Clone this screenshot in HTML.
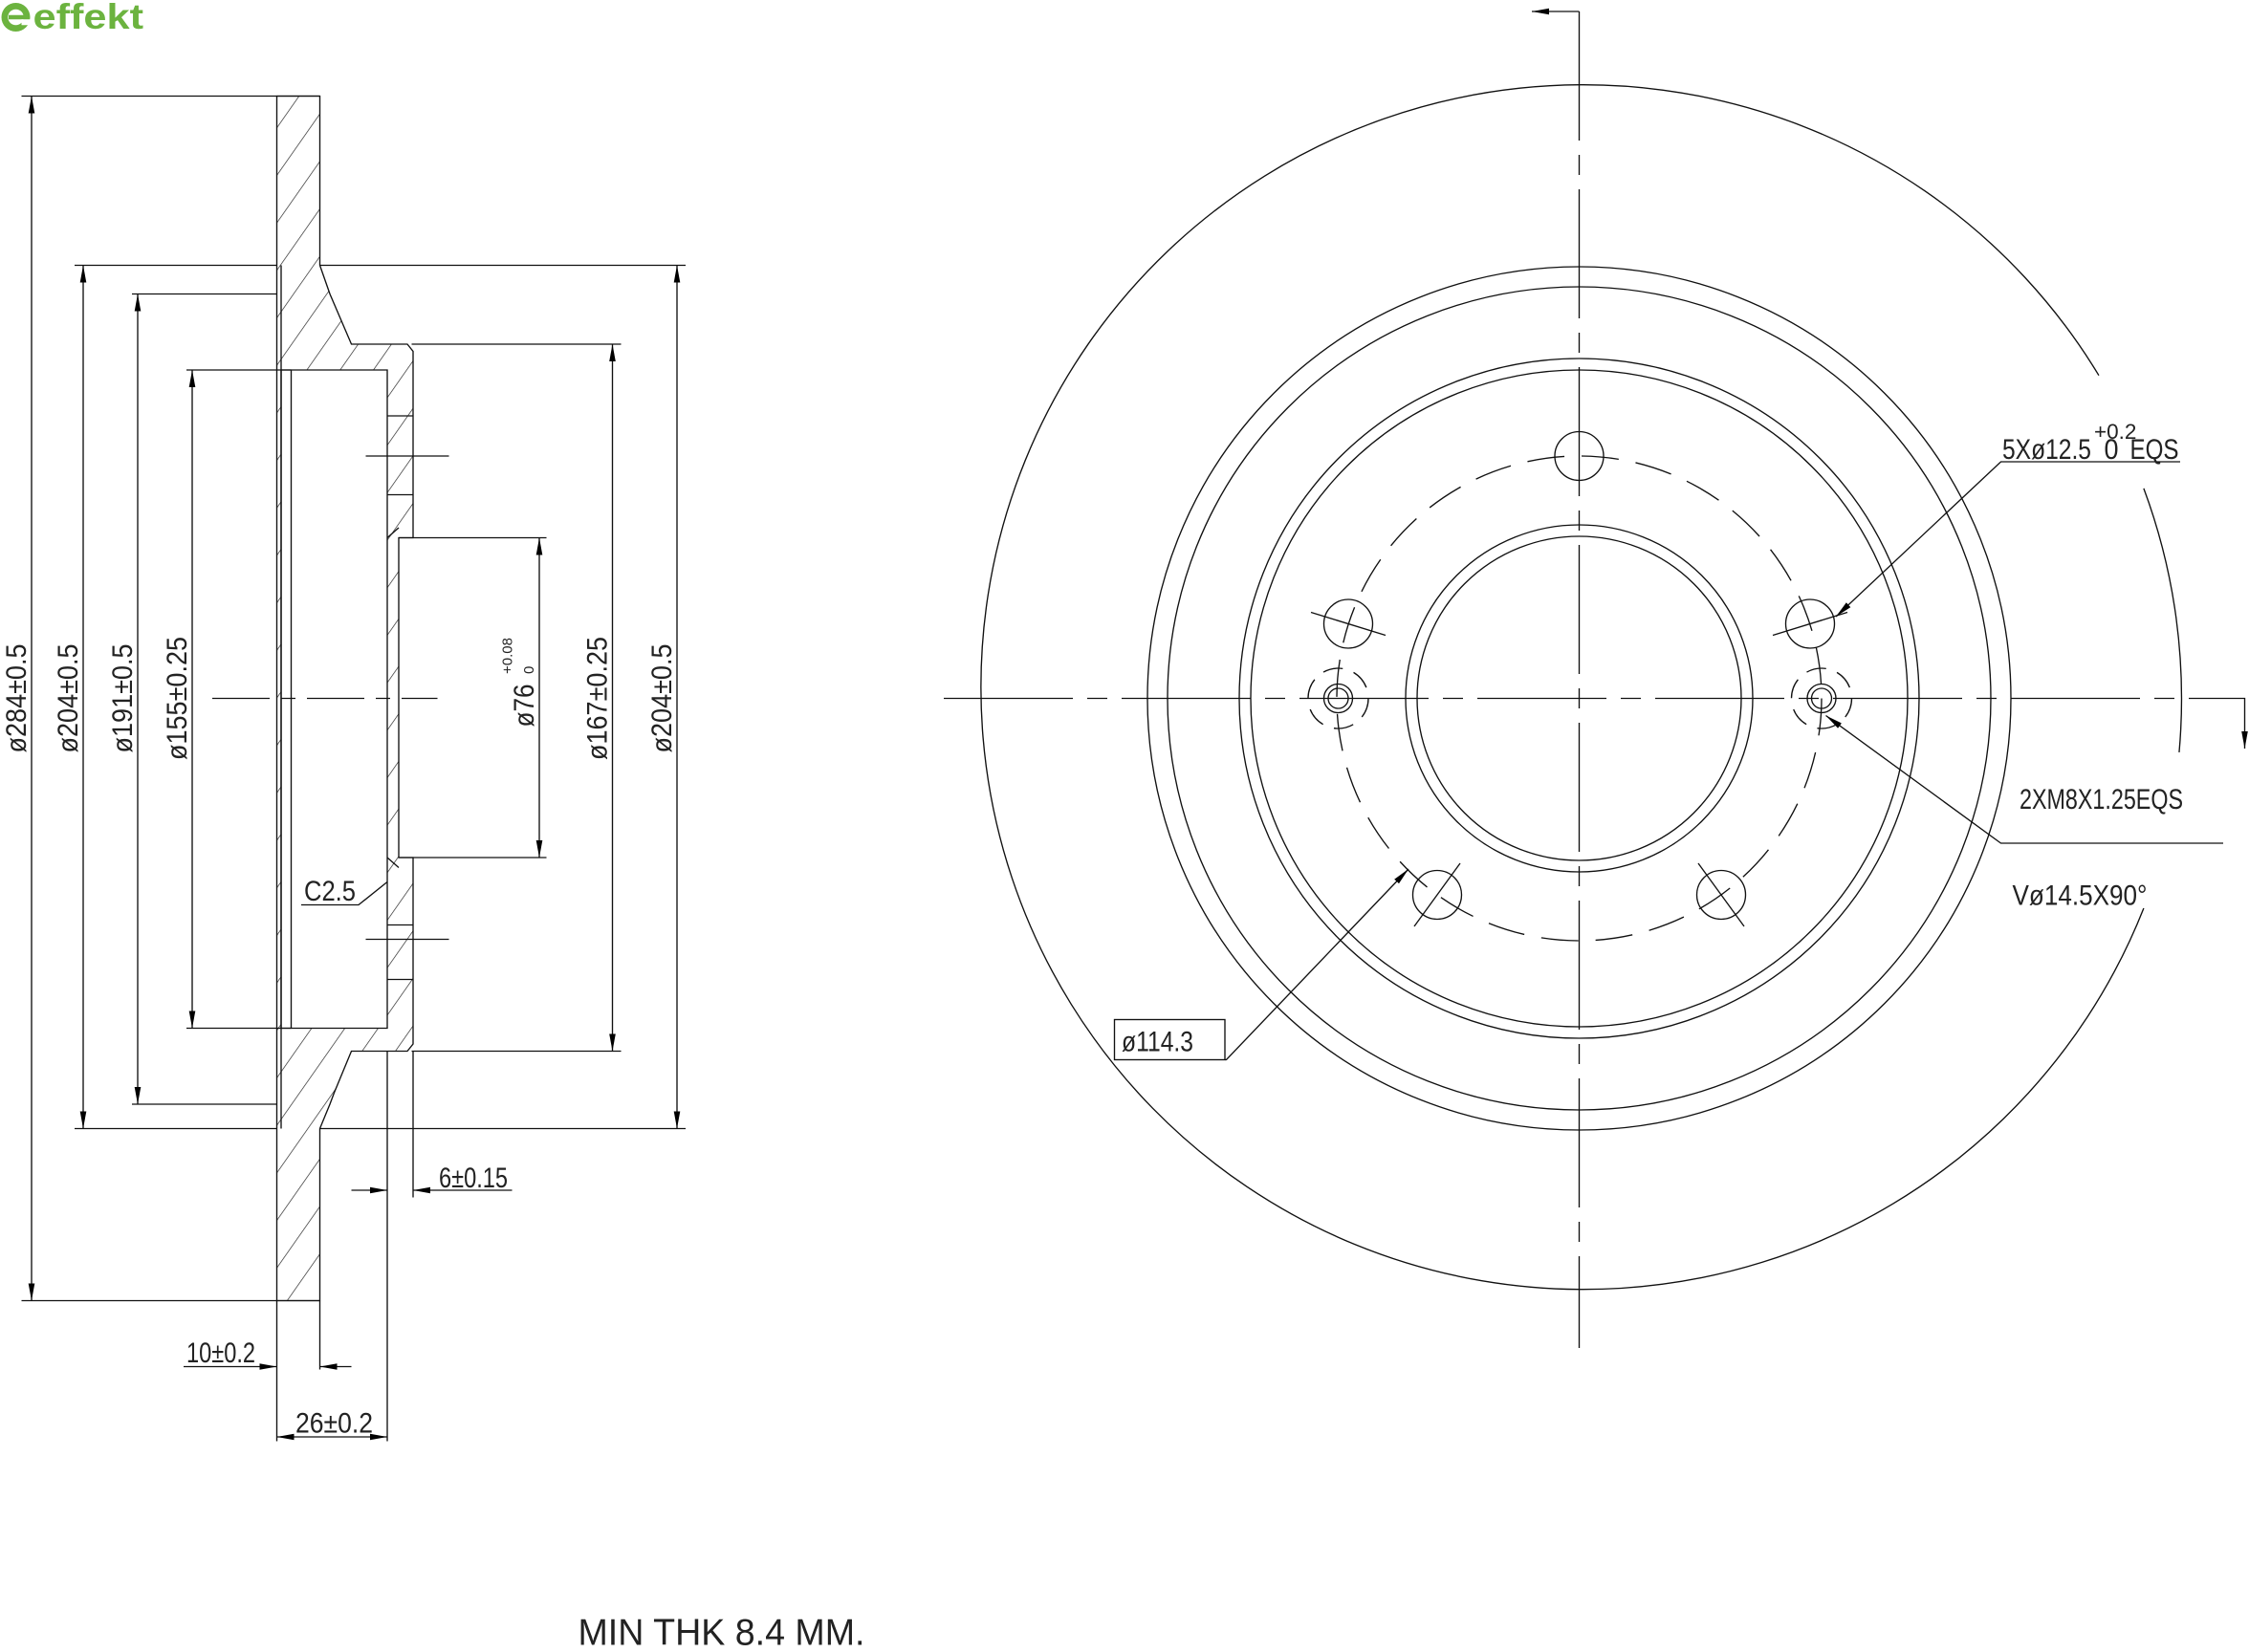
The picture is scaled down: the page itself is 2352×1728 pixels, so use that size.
<!DOCTYPE html>
<html><head><meta charset="utf-8"><style>html,body{margin:0;padding:0;background:#fff}svg{display:block}</style></head><body>
<svg width="2352" height="1728" viewBox="0 0 1568 1152" xmlns="http://www.w3.org/2000/svg" font-family="Liberation Sans, sans-serif">
<defs>
<pattern id="h" patternUnits="userSpaceOnUse" width="19" height="19" patternTransform="rotate(35)">
<line x1="0" y1="0" x2="0" y2="19" stroke="#222" stroke-width="0.9"/>
</pattern>
<marker id="a" viewBox="0 0 12 6" refX="12" refY="3" markerWidth="12" markerHeight="6" markerUnits="userSpaceOnUse" orient="auto"><path d="M0,0.8 L12,3 L0,5.2z" fill="#000"/></marker>
</defs>
<rect width="1568" height="1152" fill="#fff"/>
<!-- logo -->
<g fill="#6cb33f">
<circle cx="11" cy="12" r="10"/><circle cx="11" cy="12" r="5.5" fill="#fff"/>
<rect x="6" y="10.5" width="14" height="3" fill="#6cb33f"/>
<rect x="15" y="13.5" width="7" height="4" fill="#fff"/>
<text x="23" y="20" font-size="25" font-weight="bold" textLength="77" lengthAdjust="spacingAndGlyphs" font-family="Liberation Sans, sans-serif">effekt</text>
</g>
<g stroke="#111" stroke-width="0.9" fill="none">
<path fill="url(#h)" fill-rule="evenodd" d="M193,67 L223,67 L223,185 L230,205 L233,212 L245,240 L284,240 L288,245 L288,375 L278,375 L278,598 L288,598 L288,728 L284,733 L245,733 L233,762 L230,770 L223,787 L223,907 L193,907 Z M196,258 L270,258 L270,717 L196,717 Z"/>
<line x1="196" y1="185" x2="196" y2="787"/>
<line x1="203" y1="258" x2="203" y2="717"/>
<line x1="270" y1="290" x2="288" y2="290"/>
<line x1="270" y1="345" x2="288" y2="345"/>
<line x1="270" y1="645" x2="288" y2="645"/>
<line x1="270" y1="683" x2="288" y2="683"/>
<line x1="270" y1="375" x2="278" y2="368"/>
<line x1="270" y1="598" x2="278" y2="605"/>
<line x1="15" y1="67" x2="223" y2="67"/>
<line x1="15" y1="907" x2="223" y2="907"/>
<line x1="52" y1="185" x2="193" y2="185"/>
<line x1="223" y1="185" x2="478" y2="185"/>
<line x1="52" y1="787" x2="193" y2="787"/>
<line x1="223" y1="787" x2="478" y2="787"/>
<line x1="92" y1="205" x2="193" y2="205"/>
<line x1="92" y1="770" x2="193" y2="770"/>
<line x1="130" y1="258" x2="203" y2="258"/>
<line x1="130" y1="717" x2="203" y2="717"/>
<line x1="287" y1="240" x2="433" y2="240"/>
<line x1="287" y1="733" x2="433" y2="733"/>
<line x1="278" y1="375" x2="381" y2="375"/>
<line x1="278" y1="598" x2="381" y2="598"/>
<line x1="255" y1="318" x2="313" y2="318"/>
<line x1="255" y1="655" x2="313" y2="655"/>
<line x1="148" y1="487" x2="305" y2="487" stroke-dasharray="40,8,10,8"/>
<line x1="22" y1="487" x2="22" y2="67" marker-end="url(#a)"/><line x1="22" y1="487" x2="22" y2="907" marker-end="url(#a)"/>
<line x1="58" y1="487" x2="58" y2="185" marker-end="url(#a)"/><line x1="58" y1="487" x2="58" y2="787" marker-end="url(#a)"/>
<line x1="96" y1="487" x2="96" y2="205" marker-end="url(#a)"/><line x1="96" y1="487" x2="96" y2="770" marker-end="url(#a)"/>
<line x1="134" y1="487" x2="134" y2="258" marker-end="url(#a)"/><line x1="134" y1="487" x2="134" y2="717" marker-end="url(#a)"/>
<line x1="376" y1="487" x2="376" y2="375" marker-end="url(#a)"/><line x1="376" y1="487" x2="376" y2="598" marker-end="url(#a)"/>
<line x1="427" y1="487" x2="427" y2="240" marker-end="url(#a)"/><line x1="427" y1="487" x2="427" y2="733" marker-end="url(#a)"/>
<line x1="472" y1="487" x2="472" y2="185" marker-end="url(#a)"/><line x1="472" y1="487" x2="472" y2="787" marker-end="url(#a)"/>
<line x1="193" y1="907" x2="193" y2="1005"/>
<line x1="223" y1="907" x2="223" y2="955"/>
<line x1="270" y1="733" x2="270" y2="1005"/>
<line x1="288" y1="733" x2="288" y2="835"/>
<line x1="128" y1="953" x2="193" y2="953" marker-end="url(#a)"/>
<line x1="245" y1="953" x2="223" y2="953" marker-end="url(#a)"/>
<line x1="231" y1="1002" x2="193" y2="1002" marker-end="url(#a)"/>
<line x1="231" y1="1002" x2="270" y2="1002" marker-end="url(#a)"/>
<line x1="245" y1="830" x2="270" y2="830" marker-end="url(#a)"/>
<line x1="357" y1="830" x2="288" y2="830" marker-end="url(#a)"/>
<polyline points="210,631 250,631 270,615"/>
<line x1="658" y1="487" x2="1548" y2="487" stroke-dasharray="90,10,14,10"/>
<line x1="1101" y1="8" x2="1101" y2="940" stroke-dasharray="90,10,14,10"/>
<line x1="1101" y1="8" x2="1068" y2="8" marker-end="url(#a)"/>
<polyline points="1548,487 1565,487 1565,522" marker-end="url(#a)"/>
<path d="M1463.3,261.8 A420,420 0 1 0 1494.6,633.3"/>
<path d="M1494.6,340.6 A420,420 0 0 1 1519.3,524.6"/>
<circle cx="1101" cy="487" r="301"/>
<circle cx="1101" cy="487" r="287"/>
<circle cx="1101" cy="487" r="237"/>
<circle cx="1101" cy="487" r="229"/>
<circle cx="1101" cy="487" r="121"/>
<circle cx="1101" cy="487" r="113"/>
<circle cx="1101" cy="487" r="169" stroke-dasharray="26,12"/>
<g>
<circle cx="1101" cy="318" r="17"/>
<circle cx="1262" cy="435" r="17"/><line x1="1236" y1="443" x2="1288" y2="427"/>
<circle cx="1200" cy="624" r="17"/><line x1="1184" y1="602" x2="1216" y2="646"/>
<circle cx="1002" cy="624" r="17"/><line x1="1018" y1="602" x2="986" y2="646"/>
<circle cx="940" cy="435" r="17"/><line x1="914" y1="427" x2="966" y2="443"/>
</g>
<circle cx="933" cy="487" r="10"/><circle cx="933" cy="487" r="7"/>
<circle cx="933" cy="487" r="21" stroke-dasharray="14,8"/>
<circle cx="1270" cy="487" r="10"/><circle cx="1270" cy="487" r="7"/>
<circle cx="1270" cy="487" r="21" stroke-dasharray="14,8"/>
<polyline points="1520,322 1395,322 1280,430" marker-end="url(#a)"/>
<polyline points="1550,588 1395,588 1273,499" marker-end="url(#a)"/>
<rect x="777" y="711" width="77" height="28"/>
<polyline points="854,739 855,739 982,606" marker-end="url(#a)"/>
</g>
<g fill="#222" font-size="20">
<text transform="translate(18,487) rotate(-90)" text-anchor="middle" textLength="76" lengthAdjust="spacingAndGlyphs">ø284±0.5</text>
<text transform="translate(54,487) rotate(-90)" text-anchor="middle" textLength="76" lengthAdjust="spacingAndGlyphs">ø204±0.5</text>
<text transform="translate(92,487) rotate(-90)" text-anchor="middle" textLength="76" lengthAdjust="spacingAndGlyphs">ø191±0.5</text>
<text transform="translate(130,487) rotate(-90)" text-anchor="middle" textLength="86" lengthAdjust="spacingAndGlyphs">ø155±0.25</text>
<text transform="translate(372,492) rotate(-90)" text-anchor="middle" textLength="30" lengthAdjust="spacingAndGlyphs">ø76</text>
<text transform="translate(357,470) rotate(-90)" font-size="10">+0.08</text>
<text transform="translate(372,470) rotate(-90)" font-size="10">0</text>
<text transform="translate(423,487) rotate(-90)" text-anchor="middle" textLength="86" lengthAdjust="spacingAndGlyphs">ø167±0.25</text>
<text transform="translate(468,487) rotate(-90)" text-anchor="middle" textLength="76" lengthAdjust="spacingAndGlyphs">ø204±0.5</text>
<text x="212" y="628" textLength="36" lengthAdjust="spacingAndGlyphs">C2.5</text>
<text x="306" y="828" textLength="48" lengthAdjust="spacingAndGlyphs">6±0.15</text>
<text x="130" y="950" textLength="48" lengthAdjust="spacingAndGlyphs">10±0.2</text>
<text x="206" y="999" textLength="54" lengthAdjust="spacingAndGlyphs">26±0.2</text>
<text x="1396" y="320" textLength="62" lengthAdjust="spacingAndGlyphs">5Xø12.5</text>
<text x="1460" y="306" font-size="15">+0.2</text>
<text x="1467" y="320" textLength="10" lengthAdjust="spacingAndGlyphs">0</text>
<text x="1485" y="320" textLength="34" lengthAdjust="spacingAndGlyphs">EQS</text>
<text x="1408" y="564" textLength="114" lengthAdjust="spacingAndGlyphs">2XM8X1.25EQS</text>
<text x="1403" y="631" textLength="94" lengthAdjust="spacingAndGlyphs">Vø14.5X90°</text>
<text x="782" y="733" textLength="50" lengthAdjust="spacingAndGlyphs">ø114.3</text>
<text x="403" y="1147" font-size="26" textLength="200" lengthAdjust="spacingAndGlyphs">MIN THK 8.4 MM.</text>
</g>
</svg>
</body></html>
